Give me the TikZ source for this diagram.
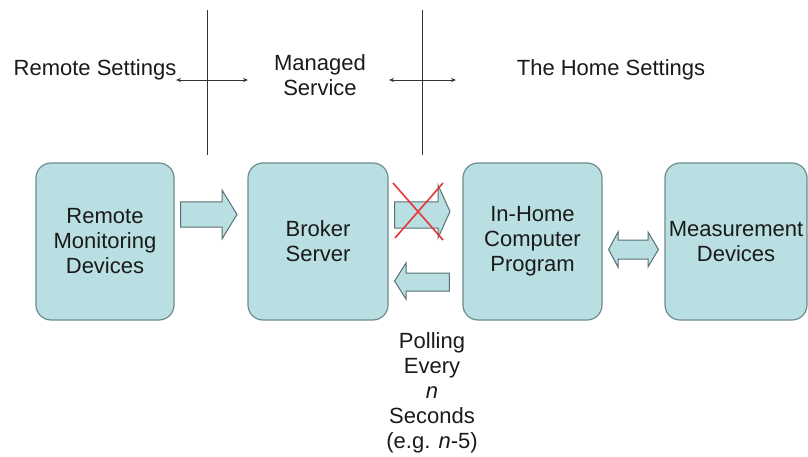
\documentclass[tikz,border=0pt]{standalone}
\usepackage{fontspec}
\setmainfont{Liberation Sans}
\usetikzlibrary{arrows.meta}
\definecolor{boxfill}{HTML}{B9DFE2}
\definecolor{boxline}{HTML}{6F8C8E}
\definecolor{txt}{HTML}{1A1A1A}
\definecolor{crossred}{HTML}{E8353A}
\tikzset{
  box/.style={draw=boxline, line width=1.2pt, fill=boxfill, rounded corners=15pt, minimum width=138pt, minimum height=157pt, inner sep=0pt, align=center, font=\fontsize{22}{25}\selectfont, text=txt},
  blockarrow/.style={draw=boxline!80!black, line width=1pt, fill=boxfill, line join=miter},
  label/.style={font=\fontsize{22}{25}\selectfont, text=txt, align=center, inner sep=0pt},
  divider/.style={draw=black!80, line width=0.9pt},
  span/.style={draw=black!80, line width=0.9pt, {Stealth[length=5pt,width=4pt]}-{Stealth[length=5pt,width=4pt]}}
}
\begin{document}
\begin{tikzpicture}[x=1pt,y=-1pt]
\useasboundingbox (0,0) rectangle (808,457);
% boxes
\node[box] (rmd) at (105,241.5) {Remote\\Monitoring\\Devices};
\node[box, minimum width=140pt] (bs) at (318,241.5) {Broker\\Server};
\node[box, minimum width=139pt] (ihp) at (532.5,241.5) {In-Home\\Computer\\Program};
\node[box, minimum width=142pt] (md) at (736,241.5) {Measurement\\Devices};
% vertical dividers
\coordinate (d1t) at (207,10); \coordinate (d1b) at (207,155);
\coordinate (d2t) at (422,10); \coordinate (d2b) at (422,155);
\draw[divider] (d1t) -- (d1b);
\draw[divider] (d2t) -- (d2b);
% top labels
\node[label] (rs) at (95,70) {Remote Settings};
\node[label] (ms) at (320,75.5) {Managed\\Service};
\node[label] (hs) at (611,70) {The Home Settings};
\coordinate (a1l) at (176,80); \coordinate (a1r) at (248,80);
\coordinate (a2l) at (389,80); \coordinate (a2r) at (456,80);
\draw[span] (a1l) -- (a1r);
\draw[span] (a2l) -- (a2r);
% block arrow rmd -> bs
\draw[blockarrow] ([xshift=6pt]rmd.east |- 0,202) -- (222,202) -- (222,190) -- (237,214.5) -- (222,239) -- (222,227) -- ([xshift=6pt]rmd.east |- 0,227) -- cycle;
% crossed arrow bs -> ihp
\draw[blockarrow] ([xshift=6pt]bs.east |- 0,202) -- (438,202) -- (438,185) -- (450,211.5) -- (438,238) -- (438,228) -- ([xshift=6pt]bs.east |- 0,228) -- cycle;
\coordinate (x1a) at (393,183); \coordinate (x1b) at (443,240);
\coordinate (x2a) at (443,183); \coordinate (x2b) at (395,238);
\draw[crossred, line width=1.6pt] (x1a) -- (x1b);
\draw[crossred, line width=1.6pt] (x2a) -- (x2b);
% block arrow ihp -> bs
\draw[blockarrow] ([xshift=-13pt]ihp.west |- 0,273) -- (406,273) -- (406,263) -- ([xshift=6pt]bs.east |- 0,281) -- (406,299) -- (406,291) -- ([xshift=-13pt]ihp.west |- 0,291) -- cycle;
% double arrow ihp <-> md
\draw[blockarrow] ([xshift=6pt]ihp.east |- 0,249.5) -- (618,232) -- (618,240) -- (648,240) -- (648,232) -- ([xshift=-6pt]md.west |- 0,249.5) -- (648,267) -- (648,259) -- (618,259) -- (618,267) -- cycle;
% polling label
\node[label] (poll) at (432,393) {Polling\\Every\\\textit{n}\\Seconds\\(e.g. \textit{n}-5)};
\end{tikzpicture}
\end{document}
